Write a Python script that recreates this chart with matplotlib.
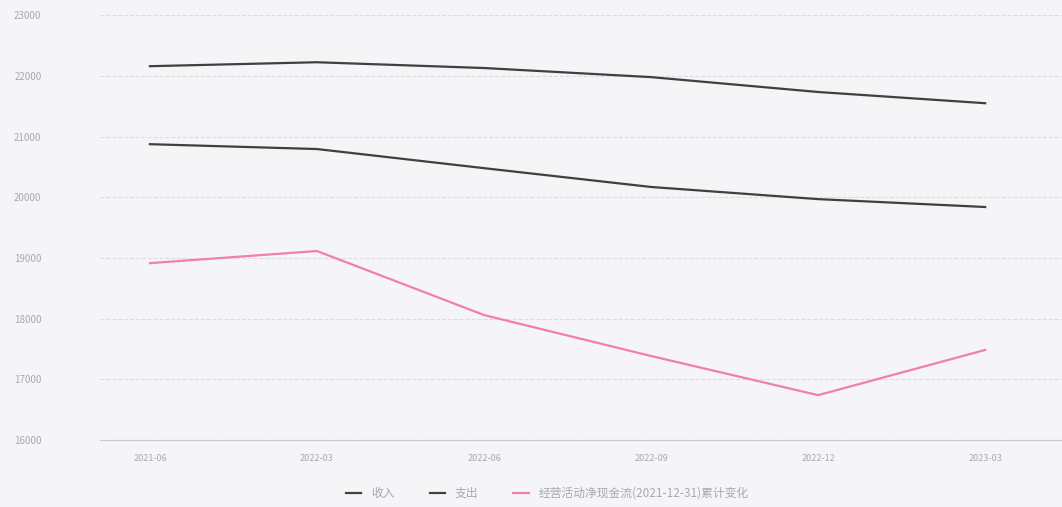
import matplotlib.pyplot as plt
import numpy as np

plt.rcParams['font.family'] = ['Noto Sans CJK SC', 'DejaVu Sans']

dates = ["2021-06", "2022-03", "2022-06", "2022-09", "2022-12", "2023-03"]
income = [22160, 22225, 22130, 21980, 21735, 21550]
expense = [20875, 20795, 20480, 20170, 19970, 19840]
net_flow = [18915, 19115, 18060, 17385, 16740, 17485]
yticks = [16000, 17000, 18000, 19000, 20000, 21000, 22000, 23000]

fig = plt.figure(figsize=(10.62, 5.07), dpi=100)
fig.patch.set_facecolor('#f5f5f7')
ax = fig.add_axes([0.094, 0.132, 0.906, 0.838])
ax.set_facecolor('#f5f5f7')

x = np.arange(len(dates))
ax.plot(x, income, color='#404040', lw=1.6, label='收入')
ax.plot(x, expense, color='#404040', lw=1.6, label='支出')
ax.plot(x, net_flow, color='#f080a8', lw=1.6, label='经营活动净现金流(2021-12-31)累计变化')

ax.set_xlim(-0.3, 5.46)
ax.set_ylim(16000, 23000)
ax.set_xticks(x)
ax.set_xticklabels(dates)
ax.set_yticks(yticks)
ax.tick_params(axis='x', length=0, labelsize=6.5, labelcolor='#a8a8b0', pad=10)
ax.tick_params(axis='y', length=0, labelsize=7, labelcolor='#a8a8b0', pad=42)
ax.grid(axis='y', color='#dcdce2', linestyle='--', lw=0.8)
for s in ['top', 'right', 'left']:
    ax.spines[s].set_visible(False)
ax.spines['bottom'].set_color('#c8c8d0')

ax.legend(loc='upper center', bbox_to_anchor=(0.465, -0.085), ncol=3, frameon=False,
          fontsize=8.5, labelcolor='#a8a8b0', handlelength=1.3, columnspacing=3.0)

plt.savefig("out.png", dpi=100, facecolor=fig.get_facecolor())
